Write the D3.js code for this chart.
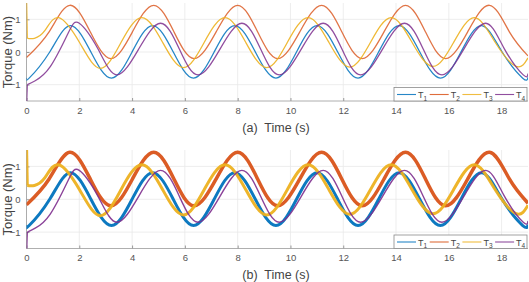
<!DOCTYPE html>
<html>
<head>
<meta charset="utf-8">
<script src="https://cdn.jsdelivr.net/npm/d3@7"></script>
<style>
  body { margin: 0; background: #fff; }
  text { font-family: "Liberation Sans", Arial, sans-serif; }
</style>
</head>
<body>
<script>
// Chart data: [time (s), torque (Nm)]
const timeTicks = [0, 2, 4, 6, 8, 10, 12, 14, 16, 18]
const torqueTicks = [-1, 0, 1]
const seriesNames = ['1', '2', '3', '4']

// start-up spikes at t = 0 (drawn straight)
const spikeT3 = [[0, 1.7], [0.03, 0.42]]
const spikeT4 = [[0, -1.7], [0.03, -1.0]]

const torqueT1 = [[0, -0.79], [0.1, -0.8], [0.88, 0], [1.66, 0.81], [2.44, 0], [3.22, -0.8], [4.0, 0], [4.78, 0.81],
  [5.56, 0], [6.33, -0.8], [7.11, 0], [7.89, 0.81], [8.67, 0], [9.45, -0.8], [10.23, 0], [11.01, 0.81], [11.79, 0],
  [12.56, -0.8], [13.34, 0], [14.12, 0.81], [14.9, 0], [15.68, -0.8], [16.46, 0], [17.24, 0.81], [18.02, 0],
  [18.8, -0.8], [19, -0.77]]
const torqueT2 = [[0, -0.17], [0.85, 0.61], [1.64, 1.43], [2.42, 0.61], [3.2, -0.2], [4.01, 0.61], [4.82, 1.43],
  [5.59, 0.61], [6.35, -0.2], [7.18, 0.61], [8.0, 1.43], [8.76, 0.61], [9.52, -0.2], [10.35, 0.61], [11.18, 1.43],
  [11.95, 0.61], [12.72, -0.2], [13.54, 0.61], [14.36, 1.43], [15.12, 0.61], [15.88, -0.2], [16.71, 0.61],
  [17.54, 1.43], [18.3, 0.61], [19, -0.12]]
const torqueT3 = [[0.03, 0.42], [0.3, 0.42], [0.7, 0.66], [1.22, 1.05], [2.01, 0.29], [2.8, -0.5],
  [3.58, 0.29], [4.37, 1.05], [5.16, 0.29], [5.95, -0.48], [6.73, 0.29], [7.52, 1.05], [8.31, 0.29], [9.1, -0.48],
  [9.88, 0.29], [10.67, 1.05], [11.46, 0.29], [12.25, -0.46], [13.03, 0.29], [13.82, 1.05], [14.61, 0.29],
  [15.4, -0.44], [16.18, 0.29], [16.97, 1.05], [17.76, 0.29], [18.55, -0.44], [19, -0.18]]
const torqueT4 = [[0.03, -1.0], [0.33, -0.88], [0.9, -0.45], [1.58, 0.58], [2.0, 0.88], [2.71, 0.09],
  [3.42, -0.7], [4.25, 0.09], [5.08, 0.88], [5.79, 0.09], [6.5, -0.7], [7.33, 0.09], [8.16, 0.88], [8.87, 0.09],
  [9.58, -0.7], [10.41, 0.09], [11.24, 0.88], [11.95, 0.09], [12.66, -0.7], [13.49, 0.09], [14.32, 0.88],
  [15.03, 0.09], [15.74, -0.7], [16.57, 0.09], [17.4, 0.88], [18.11, 0.09], [18.82, -0.7], [19, -0.66]]

const allSeries = [torqueT1, torqueT2, torqueT3, torqueT4]
const spikes = [null, null, spikeT3, spikeT4]
const colors = ['#0072BD', '#D95319', '#EDB120', '#7E2F8E']

const W = 529
const H = 282
const svg = d3.select('body').append('svg')
    .attr('width', W)
    .attr('height', H)

const x = d3.scaleLinear()
    .domain([0, 19])
    .range([26.5, 528])

function drawPanel(yRange, caption, widths, opacity, id) {
    const y = d3.scaleLinear()
        .domain([-1.5, 1.5])
        .range(yRange)
    const g = svg.append('g')

    // grid
    g.selectAll('.vgrid').data(timeTicks).join('line')
        .attr('x1', d => x(d)).attr('x2', d => x(d))
        .attr('y1', yRange[0]).attr('y2', yRange[1])
        .attr('stroke', '#e8e8e8').attr('stroke-width', 0.8)
    g.selectAll('.hgrid').data(torqueTicks).join('line')
        .attr('x1', x.range()[0]).attr('x2', x.range()[1])
        .attr('y1', d => y(d)).attr('y2', d => y(d))
        .attr('stroke', '#e8e8e8').attr('stroke-width', 0.8)

    // axes
    const xAxis = g.append('g')
        .attr('transform', `translate(0,${yRange[0]})`)
        .call(d3.axisBottom(x).tickValues(timeTicks).tickSize(-3).tickPadding(6))
    const yAxis = g.append('g')
        .attr('transform', `translate(${x.range()[0]},0)`)
        .call(d3.axisLeft(y).tickValues(torqueTicks).tickSize(-3).tickPadding(6).tickFormat(d3.format('d')))
    ;[xAxis, yAxis].forEach(a => {
        a.select('path.domain').attr('stroke', '#9a9a9a').attr('stroke-width', 0.8)
        a.selectAll('line').attr('stroke', '#9a9a9a')
        a.selectAll('text').attr('fill', '#555').style('font-size', '9.5px')
    })
    xAxis.select('path.domain').attr('d', `M${x.range()[0]},0H${x.range()[1]}`)
    yAxis.select('path.domain').attr('d', `M0,${yRange[0]}V${yRange[1]}`)

    // curves
    g.append('clipPath').attr('id', id)
        .append('rect')
        .attr('x', x.range()[0]).attr('y', yRange[1])
        .attr('width', x.range()[1] - x.range()[0])
        .attr('height', yRange[0] - yRange[1])
    const line = d3.line()
        .x(d => x(d[0]))
        .y(d => y(d[1]))
        .curve(d3.curveNatural)
    const spikeLine = d3.line()
        .x(d => x(d[0]))
        .y(d => y(d[1]))
    const plot = g.append('g').attr('clip-path', `url(#${id})`)
    plot.selectAll('.spike').data(spikes.map((s, i) => ({ s, i })).filter(d => d.s)).join('path')
        .attr('d', d => spikeLine(d.s))
        .attr('fill', 'none')
        .attr('stroke', d => colors[d.i])
        .attr('stroke-opacity', d => opacity[d.i])
        .attr('stroke-width', d => widths[d.i])
    plot.selectAll('.curve').data(allSeries).join('path')
        .attr('d', line)
        .attr('fill', 'none')
        .attr('stroke', (d, i) => colors[i])
        .attr('stroke-opacity', (d, i) => opacity[i])
        .attr('stroke-width', (d, i) => widths[i])
        .attr('stroke-linejoin', 'round')

    // labels
    g.append('text')
        .attr('transform', `translate(12,${(yRange[0] + yRange[1]) / 2}) rotate(-90)`)
        .attr('text-anchor', 'middle')
        .attr('fill', '#444')
        .style('font-size', '13px')
        .text('Torque (Nm)')
    g.append('text')
        .attr('x', 276)
        .attr('y', yRange[0] + 30.5)
        .attr('text-anchor', 'middle')
        .attr('fill', '#444')
        .style('font-size', '12.5px')
        .attr('xml:space', 'preserve')
        .text(caption)

    // legend
    const lx = 394
    const ly = yRange[0] - 13.5
    const legend = g.append('g')
        .attr('transform', `translate(${lx},${ly})`)
    legend.append('rect')
        .attr('width', 133)
        .attr('height', 13.5)
        .attr('fill', '#fff')
        .attr('stroke', '#8a8a8a')
        .attr('stroke-width', 0.8)
    const item = legend.selectAll('.item').data(seriesNames).join('g')
        .attr('transform', (d, i) => `translate(${3 + i * 32.7},7)`)
    item.append('line')
        .attr('x1', 0).attr('x2', 19)
        .attr('stroke', (d, i) => colors[i])
        .attr('stroke-opacity', 0.85)
        .attr('stroke-width', 1.1)
    const lt = item.append('text')
        .attr('x', 21)
        .attr('y', 3.5)
        .attr('fill', '#444')
        .style('font-size', '9px')
    lt.append('tspan').text('T')
    lt.append('tspan').attr('dy', 2.5).style('font-size', '6.5px').text(d => d)
}

drawPanel([101, 3], '(a)  Time (s)', [1.3, 1.3, 1.3, 1.3], [0.85, 0.8, 0.9, 0.85], 'clipA')
drawPanel([248.5, 150], '(b)  Time (s)', [3, 3.5, 3, 1.4], [0.95, 0.95, 0.95, 0.9], 'clipB')
</script>
</body>
</html>
